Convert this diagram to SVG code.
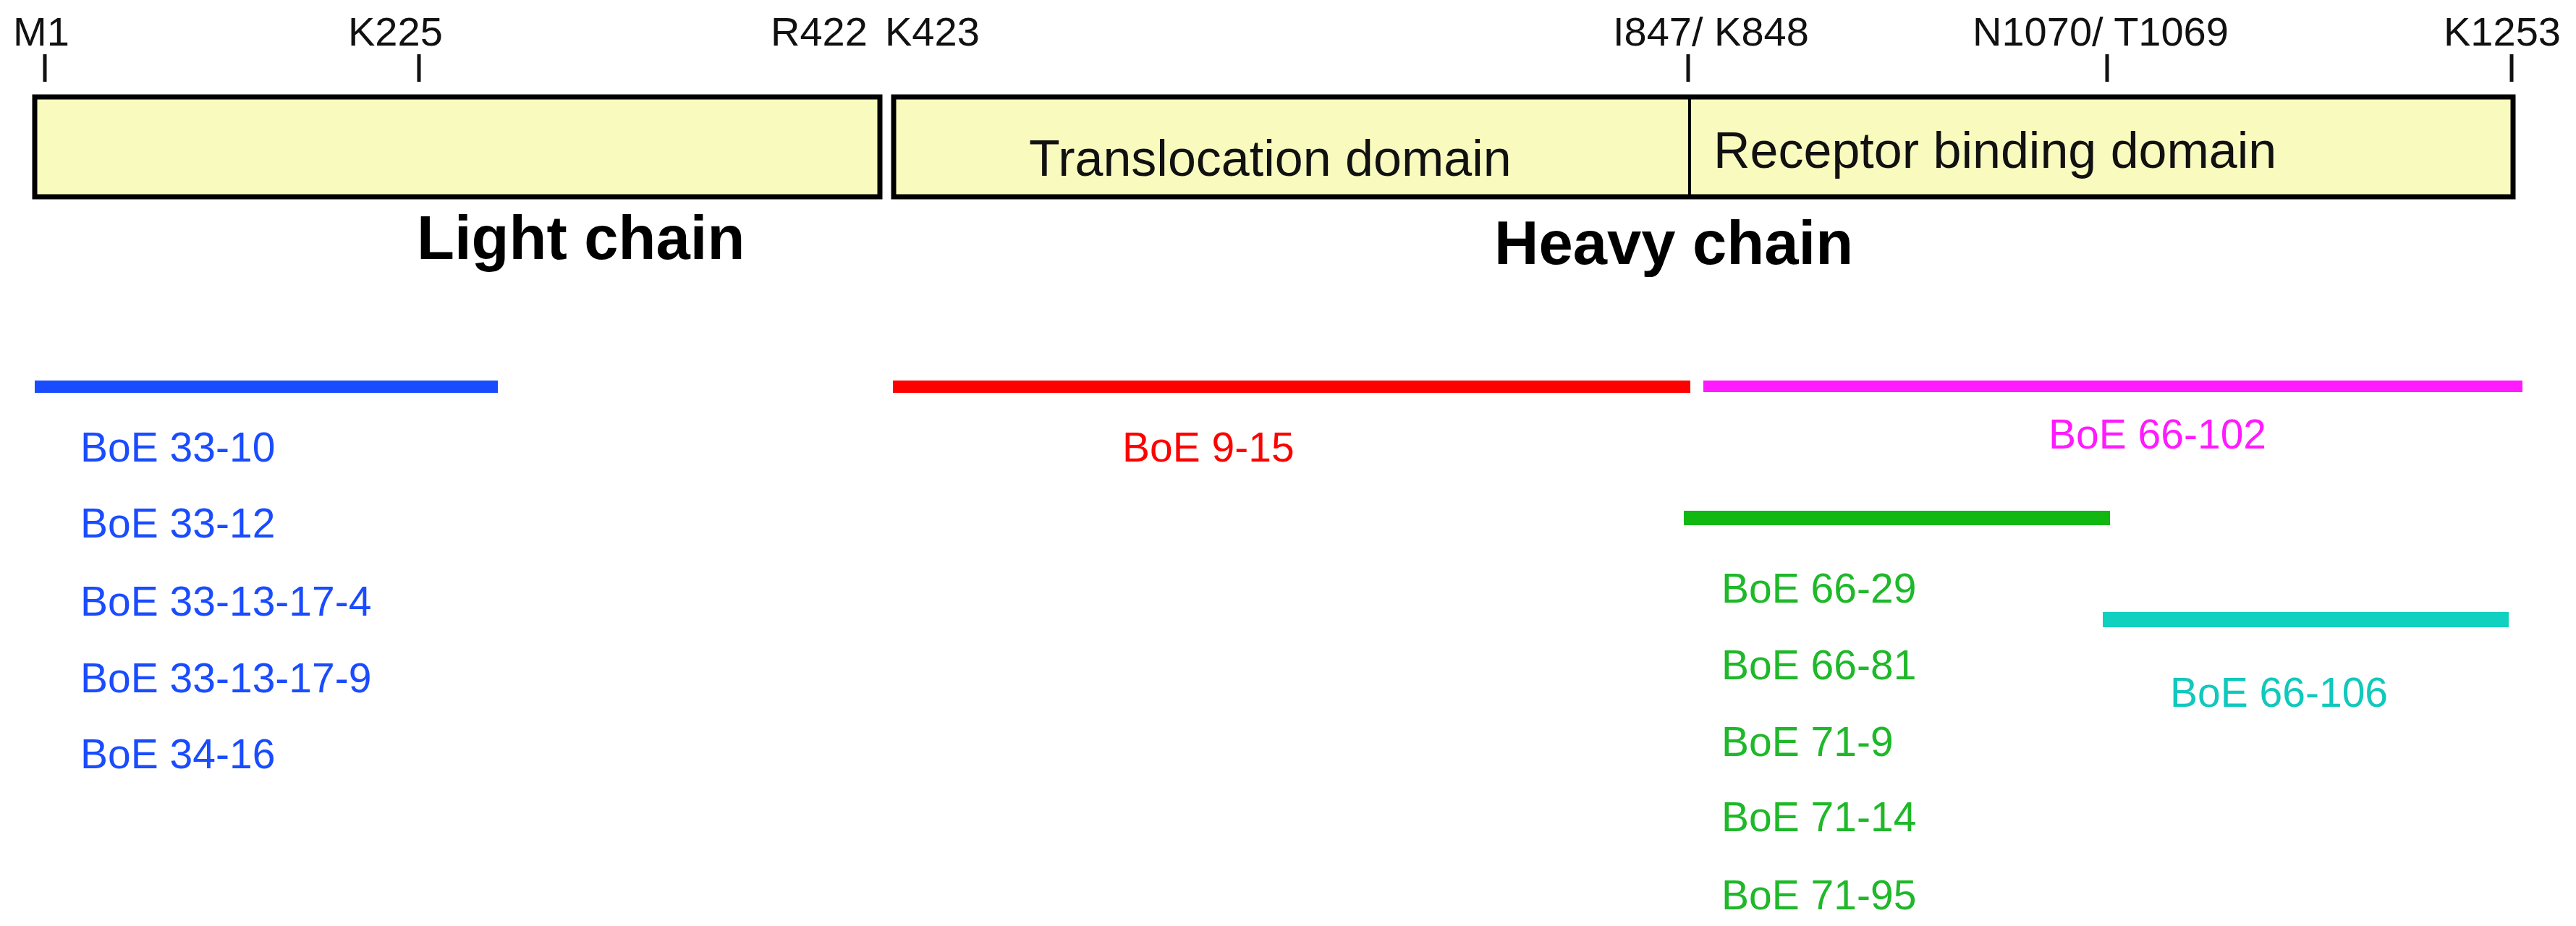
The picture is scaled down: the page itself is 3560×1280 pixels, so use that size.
<svg xmlns="http://www.w3.org/2000/svg" width="3560" height="1280" viewBox="0 0 3560 1280">
<style>
text{font-family:"Liberation Sans",Arial,sans-serif}
.pos{font-size:56px;fill:#111}
.dom{font-size:70px;fill:#111}
.chain{font-size:85px;font-weight:bold;fill:#000}
.tick{stroke:#111;stroke-width:5}
.box{fill:#f9fbbe;stroke:#000;stroke-width:7}
.lab{font-size:57px}
</style>
<rect width="3560" height="1280" fill="#fff"/>
<g id="light-chain">
<rect class="box" x="48" y="134" width="1168" height="138"/>
<text class="chain" x="576" y="358">Light chain</text>
</g>
<g id="heavy-chain">
<rect class="box" x="1235" y="134" width="2238" height="138"/>
<line x1="2335" y1="134" x2="2335" y2="272" stroke="#000" stroke-width="4"/>
<text class="dom" x="1422" y="243">Translocation domain</text>
<text class="dom" x="2368" y="232">Receptor binding domain</text>
<text class="chain" x="2065" y="365">Heavy chain</text>
</g>
<g id="ticks">
<line class="tick" x1="62" y1="75" x2="62" y2="113"/>
<line class="tick" x1="579" y1="75" x2="579" y2="113"/>
<line class="tick" x1="2333" y1="75" x2="2333" y2="113"/>
<line class="tick" x1="2912" y1="75" x2="2912" y2="113"/>
<line class="tick" x1="3471" y1="75" x2="3471" y2="113"/>
<text class="pos" x="18" y="63">M1</text>
<text class="pos" x="481" y="63">K225</text>
<text class="pos" x="1065" y="63">R422</text>
<text class="pos" x="1223" y="63">K423</text>
<text class="pos" x="2229" y="63">I847/ K848</text>
<text class="pos" x="2726" y="63">N1070/ T1069</text>
<text class="pos" x="3377" y="63">K1253</text>
</g>
<g id="connectors">
<rect x="48" y="526" width="640" height="17" fill="#1a4cff"/>
<rect x="1234" y="526" width="1102" height="17" fill="#ff0000"/>
<rect x="2354" y="526" width="1132" height="16" fill="#ff1aff"/>
<rect x="2327" y="706" width="589" height="20" fill="#12b812"/>
<rect x="2906" y="846" width="561" height="21" fill="#10d0c0"/>
</g>
<g id="blue-labels" fill="#1a4cff">
<text class="lab" x="111" y="638">BoE 33-10</text>
<text class="lab" x="111" y="743">BoE 33-12</text>
<text class="lab" x="111" y="851">BoE 33-13-17-4</text>
<text class="lab" x="111" y="957">BoE 33-13-17-9</text>
<text class="lab" x="111" y="1062">BoE 34-16</text>
</g>
<g id="red-label"><text class="lab" x="1551" y="638" fill="#ff0000">BoE 9-15</text></g>
<g id="magenta-label"><text class="lab" x="2831" y="620" fill="#ff1aff">BoE 66-102</text></g>
<g id="green-labels" fill="#1fb82a">
<text class="lab" x="2379" y="833">BoE 66-29</text>
<text class="lab" x="2379" y="939">BoE 66-81</text>
<text class="lab" x="2379" y="1045">BoE 71-9</text>
<text class="lab" x="2379" y="1149">BoE 71-14</text>
<text class="lab" x="2379" y="1257">BoE 71-95</text>
</g>
<g id="cyan-label"><text class="lab" x="2999" y="977" fill="#10c8bc">BoE 66-106</text></g>
</svg>
